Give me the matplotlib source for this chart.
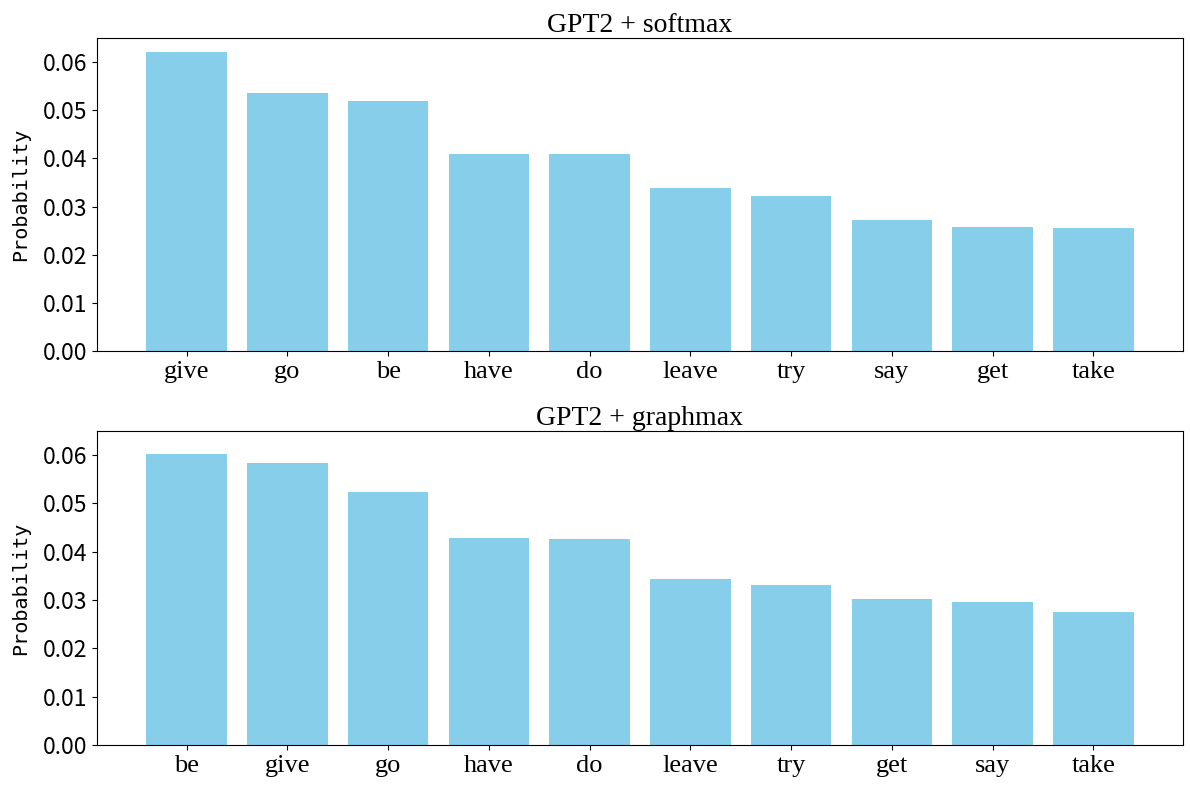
import matplotlib
matplotlib.use("Agg")
import matplotlib.pyplot as plt

# data
words_softmax = ["give", "go", "be", "have", "do", "leave", "try", "say", "get", "take"]
probs_softmax = [0.0621, 0.0535, 0.0519, 0.0410, 0.0410, 0.0338, 0.0321, 0.0273, 0.0258, 0.0256]

words_graphmax = ["be", "give", "go", "have", "do", "leave", "try", "get", "say", "take"]
probs_graphmax = [0.0602, 0.0583, 0.0523, 0.0428, 0.0426, 0.0344, 0.0332, 0.0302, 0.0296, 0.0276]

titles = ["GPT2 + softmax", "GPT2 + graphmax"]

serif = ["Liberation Serif", "DejaVu Serif"]
cjk = ["Noto Sans CJK SC", "DejaVu Sans"]
mono = ["DejaVu Sans Mono"]

fig = plt.figure(figsize=(11.9, 7.9), dpi=100)
ax1 = fig.add_axes([97 / 1190, 1 - 351 / 790, (1183 - 97) / 1190, (351 - 38) / 790])
ax2 = fig.add_axes([97 / 1190, 1 - 745 / 790, (1183 - 97) / 1190, (745 - 431) / 790])

for ax, words, probs, title in zip([ax1, ax2],
                                   [words_softmax, words_graphmax],
                                   [probs_softmax, probs_graphmax],
                                   titles):
    ax.bar(words, probs, color="skyblue")
    ax.set_title(title, family=serif, fontsize=20, pad=4)
    ax.set_ylabel("Probability", family=mono, fontsize=14.5, labelpad=9)
    ax.set_xticks(range(len(words)))
    ax.set_xticklabels(words, family=serif, fontsize=19)
    ax.set_yticks([0, 0.01, 0.02, 0.03, 0.04, 0.05, 0.06])
    ax.set_yticklabels(["0.00", "0.01", "0.02", "0.03", "0.04", "0.05", "0.06"],
                       family=cjk, fontsize=16.5)
    ax.set_ylim(0, 0.065)

fig.savefig("out.png", dpi=100)
